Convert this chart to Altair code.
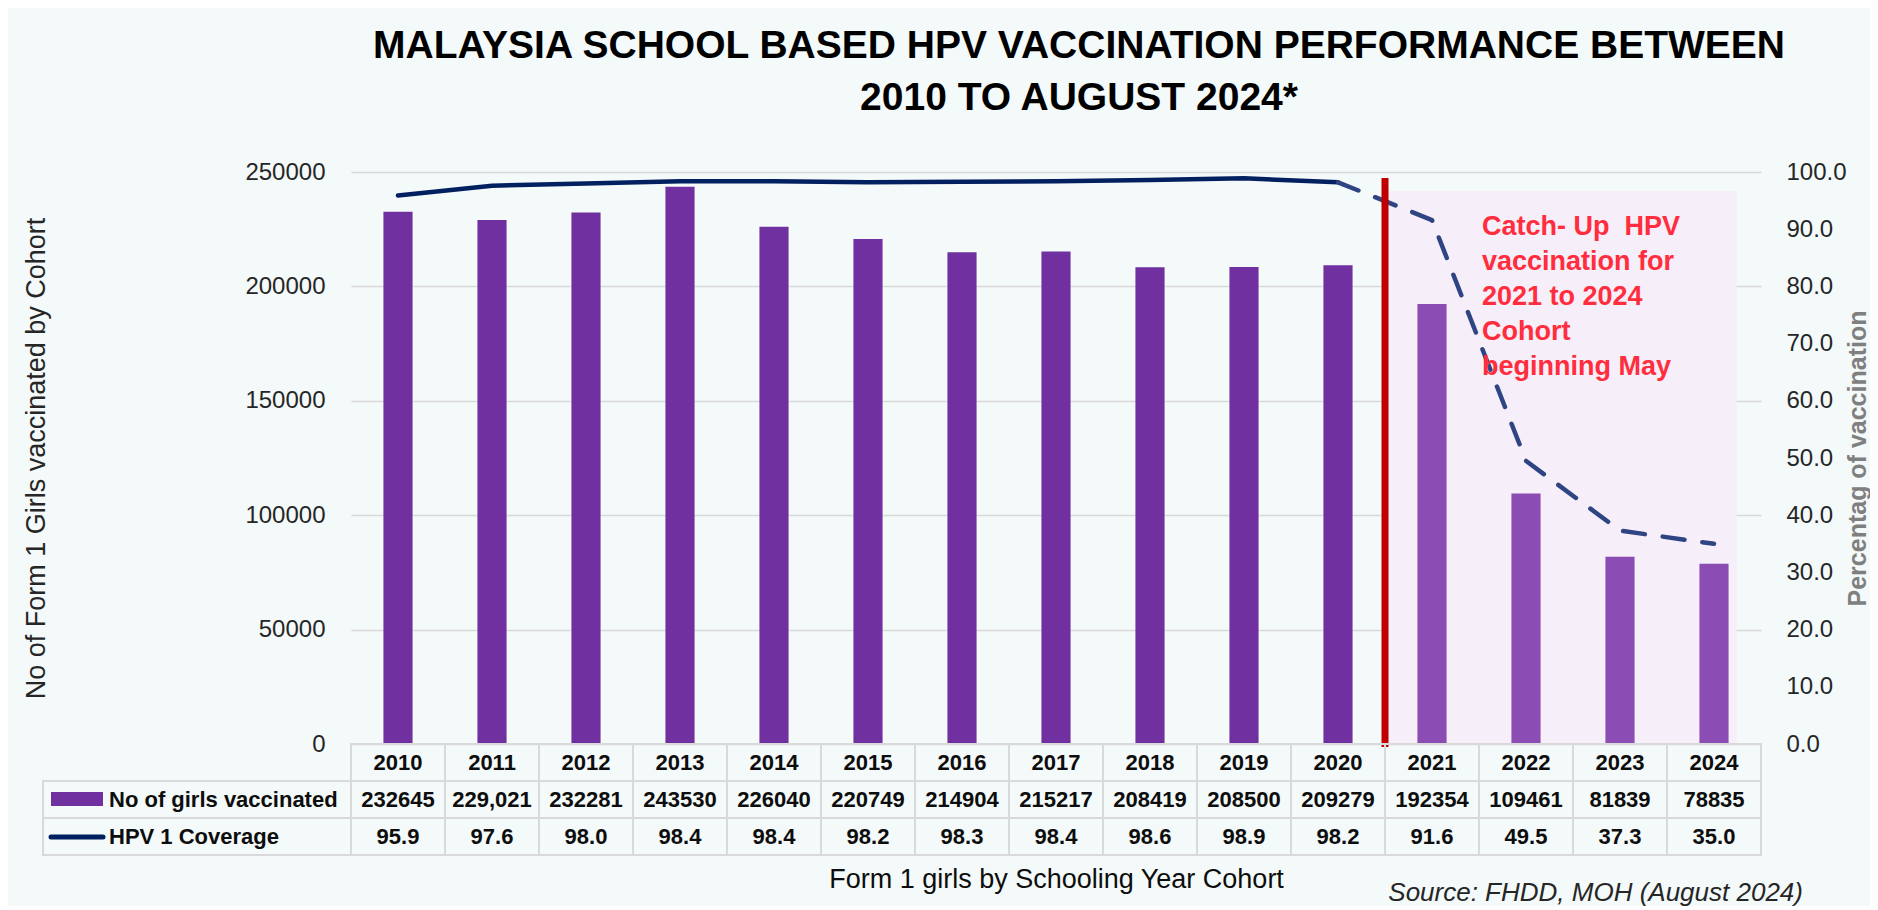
import altair as alt
import pandas as pd

# ---------------- data ----------------
years = ["2010", "2011", "2012", "2013", "2014", "2015", "2016", "2017",
         "2018", "2019", "2020", "2021", "2022", "2023", "2024"]
girls = [232645, 229021, 232281, 243530, 226040, 220749, 214904, 215217,
         208419, 208500, 209279, 192354, 109461, 81839, 78835]
girls_text = ["232645", "229,021", "232281", "243530", "226040", "220749", "214904",
              "215217", "208419", "208500", "209279", "192354", "109461", "81839", "78835"]
coverage = [95.9, 97.6, 98.0, 98.4, 98.4, 98.2, 98.3, 98.4, 98.6, 98.9, 98.2,
            91.6, 49.5, 37.3, 35.0]
phase = ["Routine"] * 11 + ["Catch-up"] * 4
solid_years = ["2010", "2011", "2012", "2013", "2014", "2015", "2016", "2017",
               "2018", "2019", "2020"]
dashed_years = ["2020", "2021", "2022", "2023", "2024"]
catchup_start = ["2021"]
catchup_end = ["2024"]
row_names = ["Year", "No of girls vaccinated", "HPV 1 Coverage"]
left_ticks = [0, 50000, 100000, 150000, 200000, 250000]
right_ticks = [0, 10, 20, 30, 40, 50, 60, 70, 80, 90, 100]

title_lines = ["MALAYSIA SCHOOL BASED HPV VACCINATION PERFORMANCE BETWEEN",
               "2010 TO AUGUST 2024*"]
note_lines = ["Catch- Up\u00a0 HPV", "vaccination for", "2021 to 2024", "Cohort",
              "beginning May"]

df = pd.DataFrame({"year": years, "girls": girls, "coverage": coverage, "phase": phase})
df_solid = df[df["year"].isin(solid_years)]
df_dash = df[df["year"].isin(dashed_years)]
df_shade = pd.DataFrame({"year": catchup_start, "end": catchup_end})
df_split = pd.DataFrame({"year": catchup_start})
one = pd.DataFrame({"k": [0]})

rows = []
for y, gt, c in zip(years, girls_text, coverage):
    rows.append({"year": y, "row": row_names[0], "text": y})
    rows.append({"year": y, "row": row_names[1], "text": gt})
    rows.append({"year": y, "row": row_names[2], "text": f"{c:.1f}"})
tbl = pd.DataFrame(rows)
hdr = pd.DataFrame({"row": row_names[1:]})

FONT = "Liberation Sans"
W, H, TH = 1410, 572, 111

xs = alt.Scale(domain=years, paddingInner=0, paddingOuter=0)
x_axis = alt.Axis(orient="bottom", labels=False, ticks=False, domain=False, grid=False,
                  title="Form 1 girls by Schooling  Year Cohort",
                  titleFont=FONT, titleFontSize=27, titleFontWeight="normal",
                  titleColor="#0D0D0D", titleX=W / 2, titleY=TH + 32,
                  titleAlign="center", titleBaseline="alphabetic")

def X(**kw):
    return alt.X("year:O", scale=xs, axis=x_axis, **kw)

# ---------------- main plot ----------------
shade = alt.Chart(df_shade).mark_rect(color="#F6EEF8").encode(
    x=X(bandPosition=0),
    x2=alt.X2("end", bandPosition=0.74),
    y=alt.value(19), y2=alt.value(H),
)

bars = alt.Chart(df).mark_bar(width=alt.RelativeBandSize(0.31)).encode(
    x=X(),
    y=alt.Y("girls:Q", scale=alt.Scale(domain=[0, 250000], nice=False),
            axis=alt.Axis(orient="left", values=left_ticks, format="d",
                          labelFontSize=24, labelFont=FONT, labelColor="#262626",
                          labelPadding=26, ticks=False, domain=False,
                          grid=True, gridColor="#D9D9D9", gridWidth=1.5,
                          title="No of Form 1 Girls vaccinated by Cohort",
                          titleFont=FONT, titleFontSize=27, titleFontWeight="normal",
                          titleColor="#262626", titleX=-315, titleY=H / 2,
                          titleAngle=270, titleAlign="center", titleBaseline="middle")),
    color=alt.Color("phase:N", scale=alt.Scale(domain=["Routine", "Catch-up"],
                                               range=["#7030A0", "#8B4DB3"]), legend=None),
)

yr = alt.Scale(domain=[0, 100], nice=False)
right_axis = alt.Axis(orient="right", values=right_ticks, format=".1f",
                      labelFontSize=24, labelFont=FONT, labelColor="#262626",
                      labelPadding=25, ticks=False, domain=False, grid=False,
                      title="Percentag of vaccination", titleFont=FONT,
                      titleFontSize=25, titleFontWeight="bold", titleColor="#7F7F7F",
                      titleX=96, titleY=H / 2, titleAngle=270, titleAlign="center",
                      titleBaseline="middle")

line_solid = alt.Chart(df_solid).mark_line(
    color="#002060", strokeWidth=4.5, strokeCap="round", strokeJoin="round").encode(
    x=X(),
    y=alt.Y("coverage:Q", scale=yr, axis=right_axis),
)
line_dash = alt.Chart(df_dash).mark_line(
    color="#2F4483", strokeWidth=4.5, strokeCap="round", strokeJoin="round",
    strokeDash=[22, 18]).encode(
    x=X(),
    y=alt.Y("coverage:Q", scale=yr, axis=right_axis),
)

split = alt.Chart(df_split).mark_rule(color="#C00000", strokeWidth=7).encode(
    x=X(bandPosition=0),
    y=alt.value(6), y2=alt.value(H + 3),
)

note = alt.Chart(one).mark_text(
    text=note_lines, align="left", baseline="alphabetic", font=FONT,
    fontSize=27, fontWeight="bold", color="#FF2D3D", lineHeight=35).encode(
    x=alt.value(1131), y=alt.value(63),
)

# ---------------- data table (below the plot area) ----------------
ys = alt.Scale(domain=row_names, range=[H, H + TH], paddingInner=0, paddingOuter=0)

cells = alt.Chart(tbl).mark_rect(stroke="#D9D9D9", strokeWidth=2, fillOpacity=0).encode(
    x=X(),
    y=alt.Y("row:N", scale=ys, axis=None),
)
cell_text = alt.Chart(tbl).mark_text(font=FONT, fontSize=22, fontWeight="bold",
                                     color="#0D0D0D").encode(
    x=X(),
    y=alt.Y("row:N", scale=ys, axis=None),
    text="text:N",
)
hdr_cells = alt.Chart(hdr).mark_rect(stroke="#D9D9D9", strokeWidth=2, fillOpacity=0).encode(
    x=alt.value(-308), x2=alt.value(0),
    y=alt.Y("row:N", scale=ys, axis=None),
)
hdr_text = alt.Chart(hdr).mark_text(align="left", font=FONT, fontSize=22,
                                    fontWeight="bold", color="#0D0D0D").encode(
    x=alt.value(-242),
    y=alt.Y("row:N", scale=ys, axis=None),
    text="row:N",
)
sw_bar = alt.Chart(one).mark_rect(color="#7030A0").encode(
    x=alt.value(-300), x2=alt.value(-248), y=alt.value(H + 48), y2=alt.value(H + 62))
sw_line = alt.Chart(one).mark_rule(color="#002060", strokeWidth=5, strokeCap="round").encode(
    x=alt.value(-300), x2=alt.value(-248), y=alt.value(H + 93))
source = alt.Chart(one).mark_text(
    text="Source: FHDD, MOH (August 2024)", align="right", baseline="alphabetic",
    font=FONT, fontSize=26, fontStyle="italic", color="#262626").encode(
    x=alt.value(1452), y=alt.value(H + 157))

chart = alt.layer(
    alt.layer(shade, bars),
    alt.layer(line_solid, line_dash),
    split, note,
    alt.layer(cells, hdr_cells, cell_text, hdr_text),
    sw_bar, sw_line, source,
).resolve_scale(y="independent").properties(
    width=W, height=H,
    title=alt.TitleParams(text=title_lines, font=FONT, fontSize=39, fontWeight="bold",
                          color="#000000", anchor="middle", lineHeight=52,
                          dx=23, offset=42),
    background="#F4F9F9",
    padding={"left": 14, "top": 19, "right": 0, "bottom": 0},
).configure_view(strokeWidth=0)

chart.save("out.html", embed_options={"renderer": "svg", "actions": False})
